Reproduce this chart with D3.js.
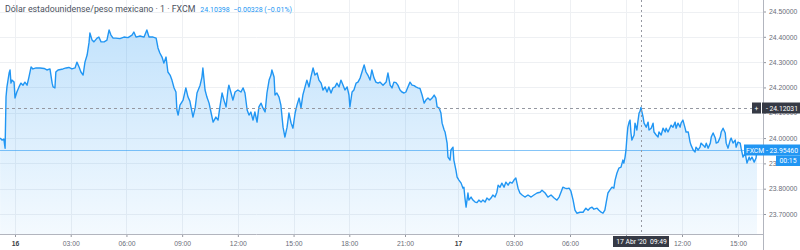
<!DOCTYPE html>
<html>
<head>
<meta charset="utf-8">
<script src="https://cdn.jsdelivr.net/npm/d3@7"></script>
<style>
  body { margin: 0; background: #fff; }
  svg { display: block; font-family: Roboto, "Open Sans", sans-serif; }
</style>
</head>
<body>
<div id="chart"></div>
<script>
// USD/MXN, velas de 1 minuto (FXCM), 16-17 abr 2020
const title = 'Dólar estadounidense/peso mexicano · 1 · FXCM';
const legendQuote = '24.10398  −0.00328 (−0.01%)';

// minutos desde 16 abr 00:00 y precio de cierre
const minutes = [
  -48,-42,-36,-32,-29,-26,-19,-16,-13,-10,
  -3,0,6,13,19,26,32,39,45,52,
  58,68,81,94,103,113,120,123,129,132,
  139,155,165,174,184,194,200,207,213,220,
  226,233,239,242,249,255,265,271,278,288,
  297,304,310,317,326,339,352,365,378,384,
  391,404,417,426,433,446,456,462,468,475,
  481,488,494,501,507,514,520,523,527,533,
  543,552,559,565,575,582,588,598,604,607,
  614,620,627,633,640,649,656,662,669,675,
  682,688,691,698,704,711,720,730,737,743,
  750,756,762,769,775,782,788,795,801,808,
  814,821,827,830,837,840,846,853,859,866,
  872,879,885,892,898,905,911,918,924,930,
  937,943,950,956,963,969,976,982,989,995,
  1002,1008,1014,1021,1027,1034,1040,1047,1053,1060,
  1066,1073,1079,1082,1089,1095,1102,1108,1115,1121,
  1128,1134,1140,1147,1153,1160,1166,1173,1179,1189,
  1199,1205,1212,1218,1224,1231,1237,1244,1250,1257,
  1263,1270,1277,1284,1291,1297,1304,1311,1318,1325,
  1331,1338,1345,1352,1359,1365,1369,1376,1382,1386,
  1393,1396,1403,1406,1413,1416,1423,1426,1433,1437,
  1443,1450,1456,1459,1462,1466,1472,1475,1482,1488,
  1495,1501,1507,1514,1520,1527,1533,1540,1546,1552,
  1559,1565,1569,1575,1581,1588,1594,1601,1607,1614,
  1620,1626,1633,1639,1646,1655,1665,1675,1684,1694,
  1704,1710,1720,1729,1739,1749,1758,1765,1771,1777,
  1784,1790,1797,1803,1810,1816,1822,1832,1842,1851,
  1858,1864,1871,1877,1887,1893,1900,1906,1912,1916,
  1922,1928,1935,1941,1945,1951,1957,1964,1970,1973,
  1977,1980,1983,1986,1990,1993,1996,1999,2006,2009,
  2015,2018,2022,2025,2028,2035,2038,2045,2051,2054,
  2061,2067,2070,2077,2083,2086,2093,2099,2106,2109,
  2115,2122,2125,2131,2138,2141,2147,2154,2157,2163,
  2170,2173,2180,2186,2189,2196,2202,2205,2212,2218,
  2221,2228,2234,2238,2244,2251,2254,2260,2267,2270,
  2276,2283,2286,2292,2299,2302,2308,2315,2318,2324,
  2331,2334,2340,2347,2350,2356,2363,2369,2376,2379,
  2385,2392,2398,2401
];

const prices = [
  24.000,23.992,23.996,23.960,24.162,24.202,24.257,24.269,24.217,24.229,
  24.221,24.158,24.182,24.202,24.217,24.209,24.221,24.209,24.241,24.281,
  24.273,24.277,24.277,24.275,24.269,24.273,24.217,24.202,24.198,24.261,
  24.269,24.273,24.277,24.279,24.273,24.277,24.300,24.281,24.261,24.249,
  24.300,24.328,24.376,24.415,24.387,24.380,24.395,24.399,24.380,24.380,
  24.387,24.427,24.407,24.395,24.395,24.393,24.399,24.397,24.407,24.419,
  24.399,24.403,24.399,24.427,24.399,24.399,24.395,24.356,24.336,24.320,
  24.296,24.320,24.261,24.249,24.229,24.198,24.182,24.111,24.091,24.130,
  24.150,24.198,24.162,24.146,24.083,24.119,24.178,24.209,24.241,24.277,
  24.190,24.162,24.138,24.103,24.063,24.083,24.071,24.123,24.178,24.150,
  24.123,24.190,24.209,24.178,24.150,24.182,24.190,24.182,24.198,24.178,
  24.111,24.091,24.103,24.071,24.103,24.063,24.123,24.138,24.119,24.103,
  24.178,24.229,24.249,24.269,24.241,24.170,24.178,24.162,24.130,24.043,
  24.004,24.043,24.099,24.059,24.039,24.099,24.130,24.158,24.119,24.170,
  24.202,24.229,24.202,24.241,24.277,24.249,24.257,24.229,24.217,24.190,
  24.202,24.182,24.202,24.178,24.198,24.202,24.217,24.202,24.229,24.209,
  24.190,24.202,24.170,24.123,24.182,24.190,24.217,24.221,24.237,24.261,
  24.289,24.261,24.249,24.229,24.269,24.237,24.221,24.217,24.221,24.209,
  24.221,24.257,24.209,24.198,24.221,24.219,24.209,24.190,24.182,24.178,
  24.182,24.202,24.221,24.209,24.207,24.202,24.198,24.196,24.170,24.138,
  24.150,24.158,24.150,24.158,24.170,24.158,24.123,24.119,24.099,24.059,
  24.032,24.024,23.980,23.925,23.913,23.953,23.964,23.913,23.873,23.846,
  23.834,23.822,23.802,23.806,23.767,23.727,23.783,23.755,23.767,23.755,
  23.747,23.745,23.755,23.747,23.755,23.747,23.763,23.755,23.763,23.775,
  23.767,23.786,23.814,23.806,23.822,23.806,23.826,23.814,23.826,23.822,
  23.834,23.842,23.802,23.783,23.775,23.767,23.775,23.767,23.775,23.783,
  23.786,23.794,23.783,23.767,23.775,23.763,23.755,23.767,23.786,23.806,
  23.802,23.800,23.802,23.790,23.755,23.715,23.703,23.707,23.707,23.723,
  23.715,23.723,23.727,23.719,23.723,23.715,23.707,23.703,23.715,23.743,
  23.783,23.794,23.806,23.802,23.834,23.862,23.881,23.885,23.913,23.901,
  23.925,23.953,24.004,24.043,24.063,24.071,24.020,23.992,24.012,24.059,
  24.032,24.063,24.099,24.105,24.121,24.083,24.059,24.043,24.063,24.032,
  24.039,24.059,24.024,24.012,24.004,24.024,24.012,24.039,24.024,24.039,
  24.024,24.043,24.051,24.043,24.063,24.039,24.059,24.043,24.059,24.071,
  24.039,24.024,24.024,23.984,23.972,23.953,23.945,23.964,23.953,23.964,
  23.980,23.972,23.964,23.980,23.960,23.980,24.004,24.020,24.000,23.980,
  23.984,24.004,24.024,24.039,24.020,23.980,23.960,23.992,24.000,23.980,
  23.992,23.964,23.984,23.980,23.960,23.925,23.941,23.901,23.925,23.913,
  23.925,23.905,23.921,23.955
];

const priceTicks = [24.5, 24.4, 24.3, 24.2, 24.1, 24.0, 23.9, 23.8, 23.7];
const timeTicks = [0, 180, 360, 540, 720, 900, 1080, 1260, 1440, 1620, 1800, 1980, 2160, 2340];

const lastPrice = 23.95460;
const countdown = '00:15';
const crossMinute = 2029;        // 17 abr 09:49
const crossPrice = 24.12031;
const crossLabel = "17 Abr '20  09:49";

const W = 800, H = 250;
const plotW = 763, plotH = 234;
const base = new Date(2020, 3, 16);
const toDate = m => new Date(base.getTime() + m * 60000);

const svg = d3.select('#chart').append('svg')
  .attr('width', W).attr('height', H)
  .attr('viewBox', `0 0 ${W} ${H}`);

// eje de tiempo por índice de vela: el hueco del rollover comprime la noche
const x = d3.scaleTime()
  .domain([0, 1260, 1440, 2340].map(toDate))
  .range([15, 405, 458, 738]);

const y = d3.scaleLinear().domain([23.7, 24.5]).range([214, 11.5]);

const data = minutes.slice(0, Math.min(minutes.length, prices.length))
  .map((m, i) => ({ t: toDate(m), p: prices[i] }));

// gradiente del área
const defs = svg.append('defs');
const grad = defs.append('linearGradient').attr('id', 'areaFill')
  .attr('gradientUnits', 'userSpaceOnUse')
  .attr('x1', 0).attr('x2', 0).attr('y1', 20).attr('y2', plotH);
grad.append('stop').attr('offset', 0).attr('stop-color', '#2196f3').attr('stop-opacity', 0.28);
grad.append('stop').attr('offset', 1).attr('stop-color', '#2196f3').attr('stop-opacity', 0.05);
defs.append('clipPath').attr('id', 'plotClip')
  .append('rect').attr('width', plotW).attr('height', plotH);

// rejilla
const grid = svg.append('g').attr('class', 'grid');
grid.selectAll('line.h').data(priceTicks).join('line')
  .attr('class', 'h')
  .attr('x1', 0).attr('x2', plotW)
  .attr('y1', d => Math.round(y(d)) + 0.5).attr('y2', d => Math.round(y(d)) + 0.5)
  .attr('stroke', '#eef0f3');
grid.selectAll('line.v').data(timeTicks).join('line')
  .attr('class', 'v')
  .attr('x1', d => Math.round(x(toDate(d))) + 0.5).attr('x2', d => Math.round(x(toDate(d))) + 0.5)
  .attr('y1', 0).attr('y2', plotH)
  .attr('stroke', '#eef0f3');

const plot = svg.append('g').attr('clip-path', 'url(#plotClip)');

const area = d3.area()
  .x(d => x(d.t)).y0(plotH).y1(d => y(d.p));
const line = d3.line()
  .x(d => x(d.t)).y(d => y(d.p));

plot.append('path').datum(data)
  .attr('d', area).attr('fill', 'url(#areaFill)');
plot.append('path').datum(data)
  .attr('d', line).attr('fill', 'none')
  .attr('stroke', '#2196f3').attr('stroke-width', 1.4)
  .attr('stroke-linejoin', 'round');

// línea de último precio
const yLast = Math.round(y(lastPrice)) + 0.5;
svg.append('line')
  .attr('x1', 0).attr('x2', plotW).attr('y1', yLast).attr('y2', yLast)
  .attr('stroke', '#2196f3').attr('stroke-opacity', 0.55);

// cruz del cursor
const yCross = Math.round(y(crossPrice)) + 0.5;
const xCross = Math.round(x(toDate(crossMinute))) + 0.5;
svg.append('line')
  .attr('x1', 0).attr('x2', plotW).attr('y1', yCross).attr('y2', yCross)
  .attr('stroke', '#9598a1').attr('stroke-dasharray', '3,3');
svg.append('line')
  .attr('x1', xCross).attr('x2', xCross).attr('y1', 0).attr('y2', plotH)
  .attr('stroke', '#9598a1').attr('stroke-dasharray', '2,3');

// ejes
const yAxis = d3.axisRight(y).tickValues(priceTicks)
  .tickFormat(d3.format('.5f')).tickSize(3).tickPadding(3);
const gy = svg.append('g').attr('transform', `translate(${plotW},0)`).call(yAxis);
gy.select('.domain').remove();
gy.selectAll('.tick line').attr('stroke', '#9598a1');
gy.selectAll('.tick text').attr('fill', '#6a6d78').attr('font-size', 6.8);

const fmtTime = d3.timeFormat('%H:%M');
const xAxis = d3.axisBottom(x).tickValues(timeTicks.map(toDate))
  .tickFormat(d => (d.getHours() === 0 && d.getMinutes() === 0) ? String(d.getDate()) : fmtTime(d))
  .tickSize(3).tickPadding(4);
const gx = svg.append('g').attr('transform', `translate(0,${plotH})`).call(xAxis);
gx.select('.domain').remove();
gx.selectAll('.tick line').attr('stroke', '#9598a1');
gx.selectAll('.tick text')
  .attr('fill', d => d.getHours() === 0 ? '#3a3d45' : '#6a6d78')
  .attr('font-weight', d => d.getHours() === 0 ? 'bold' : null)
  .attr('font-size', 6.8);
// la etiqueta del cursor tapa la hora que cae debajo
gx.selectAll('.tick text').filter(d => Math.abs(x(d) - xCross) < 32).remove();

svg.append('line').attr('x1', 0).attr('x2', plotW)
  .attr('y1', plotH + 0.5).attr('y2', plotH + 0.5).attr('stroke', '#b2b5be');
svg.append('line').attr('x1', plotW + 0.5).attr('x2', plotW + 0.5)
  .attr('y1', 0).attr('y2', H).attr('stroke', '#b2b5be');

// etiquetas del eje de precios
const tags = svg.append('g').attr('font-size', 6.8).attr('fill', '#fff');

tags.append('rect').attr('x', 752).attr('y', yCross - 6).attr('width', 9).attr('height', 11)
  .attr('fill', '#363a45');
tags.append('text').attr('x', 756.5).attr('y', yCross + 2.5).attr('text-anchor', 'middle')
  .attr('fill', '#fff').text('+');
tags.append('rect').attr('x', 762).attr('y', yCross - 6).attr('width', 38).attr('height', 11)
  .attr('fill', '#363a45');
tags.append('text').attr('x', 798).attr('y', yCross + 2.5).attr('text-anchor', 'end')
  .attr('fill', '#fff').text('- ' + d3.format('.5f')(crossPrice));

tags.append('rect').attr('x', 744).attr('y', yLast - 6).attr('width', 56).attr('height', 11)
  .attr('fill', '#2196f3');
tags.append('text').attr('x', 798).attr('y', yLast + 2.5).attr('text-anchor', 'end')
  .attr('fill', '#fff').text('FXCM - ' + d3.format('.5f')(lastPrice));
tags.append('rect').attr('x', 776).attr('y', yLast + 5).attr('width', 24).attr('height', 10.5)
  .attr('fill', '#2196f3');
tags.append('text').attr('x', 788).attr('y', yLast + 12.5).attr('text-anchor', 'middle')
  .attr('fill', '#fff').text(countdown);

// etiqueta de tiempo del cursor
tags.append('rect').attr('x', xCross - 28.5).attr('y', 236).attr('width', 56).attr('height', 11)
  .attr('fill', '#363a45');
tags.append('text').attr('x', xCross).attr('y', 244).attr('text-anchor', 'middle')
  .attr('fill', '#fff').attr('xml:space', 'preserve').text(crossLabel);

// leyenda
const legend = svg.append('text').attr('x', 5).attr('y', 12);
legend.append('tspan').attr('font-size', 8.8).attr('fill', '#4c525e').text(title);
legend.append('tspan').attr('dx', 5).attr('font-size', 7).attr('fill', '#2196f3')
  .attr('xml:space', 'preserve').text(legendQuote);
</script>
</body>
</html>
